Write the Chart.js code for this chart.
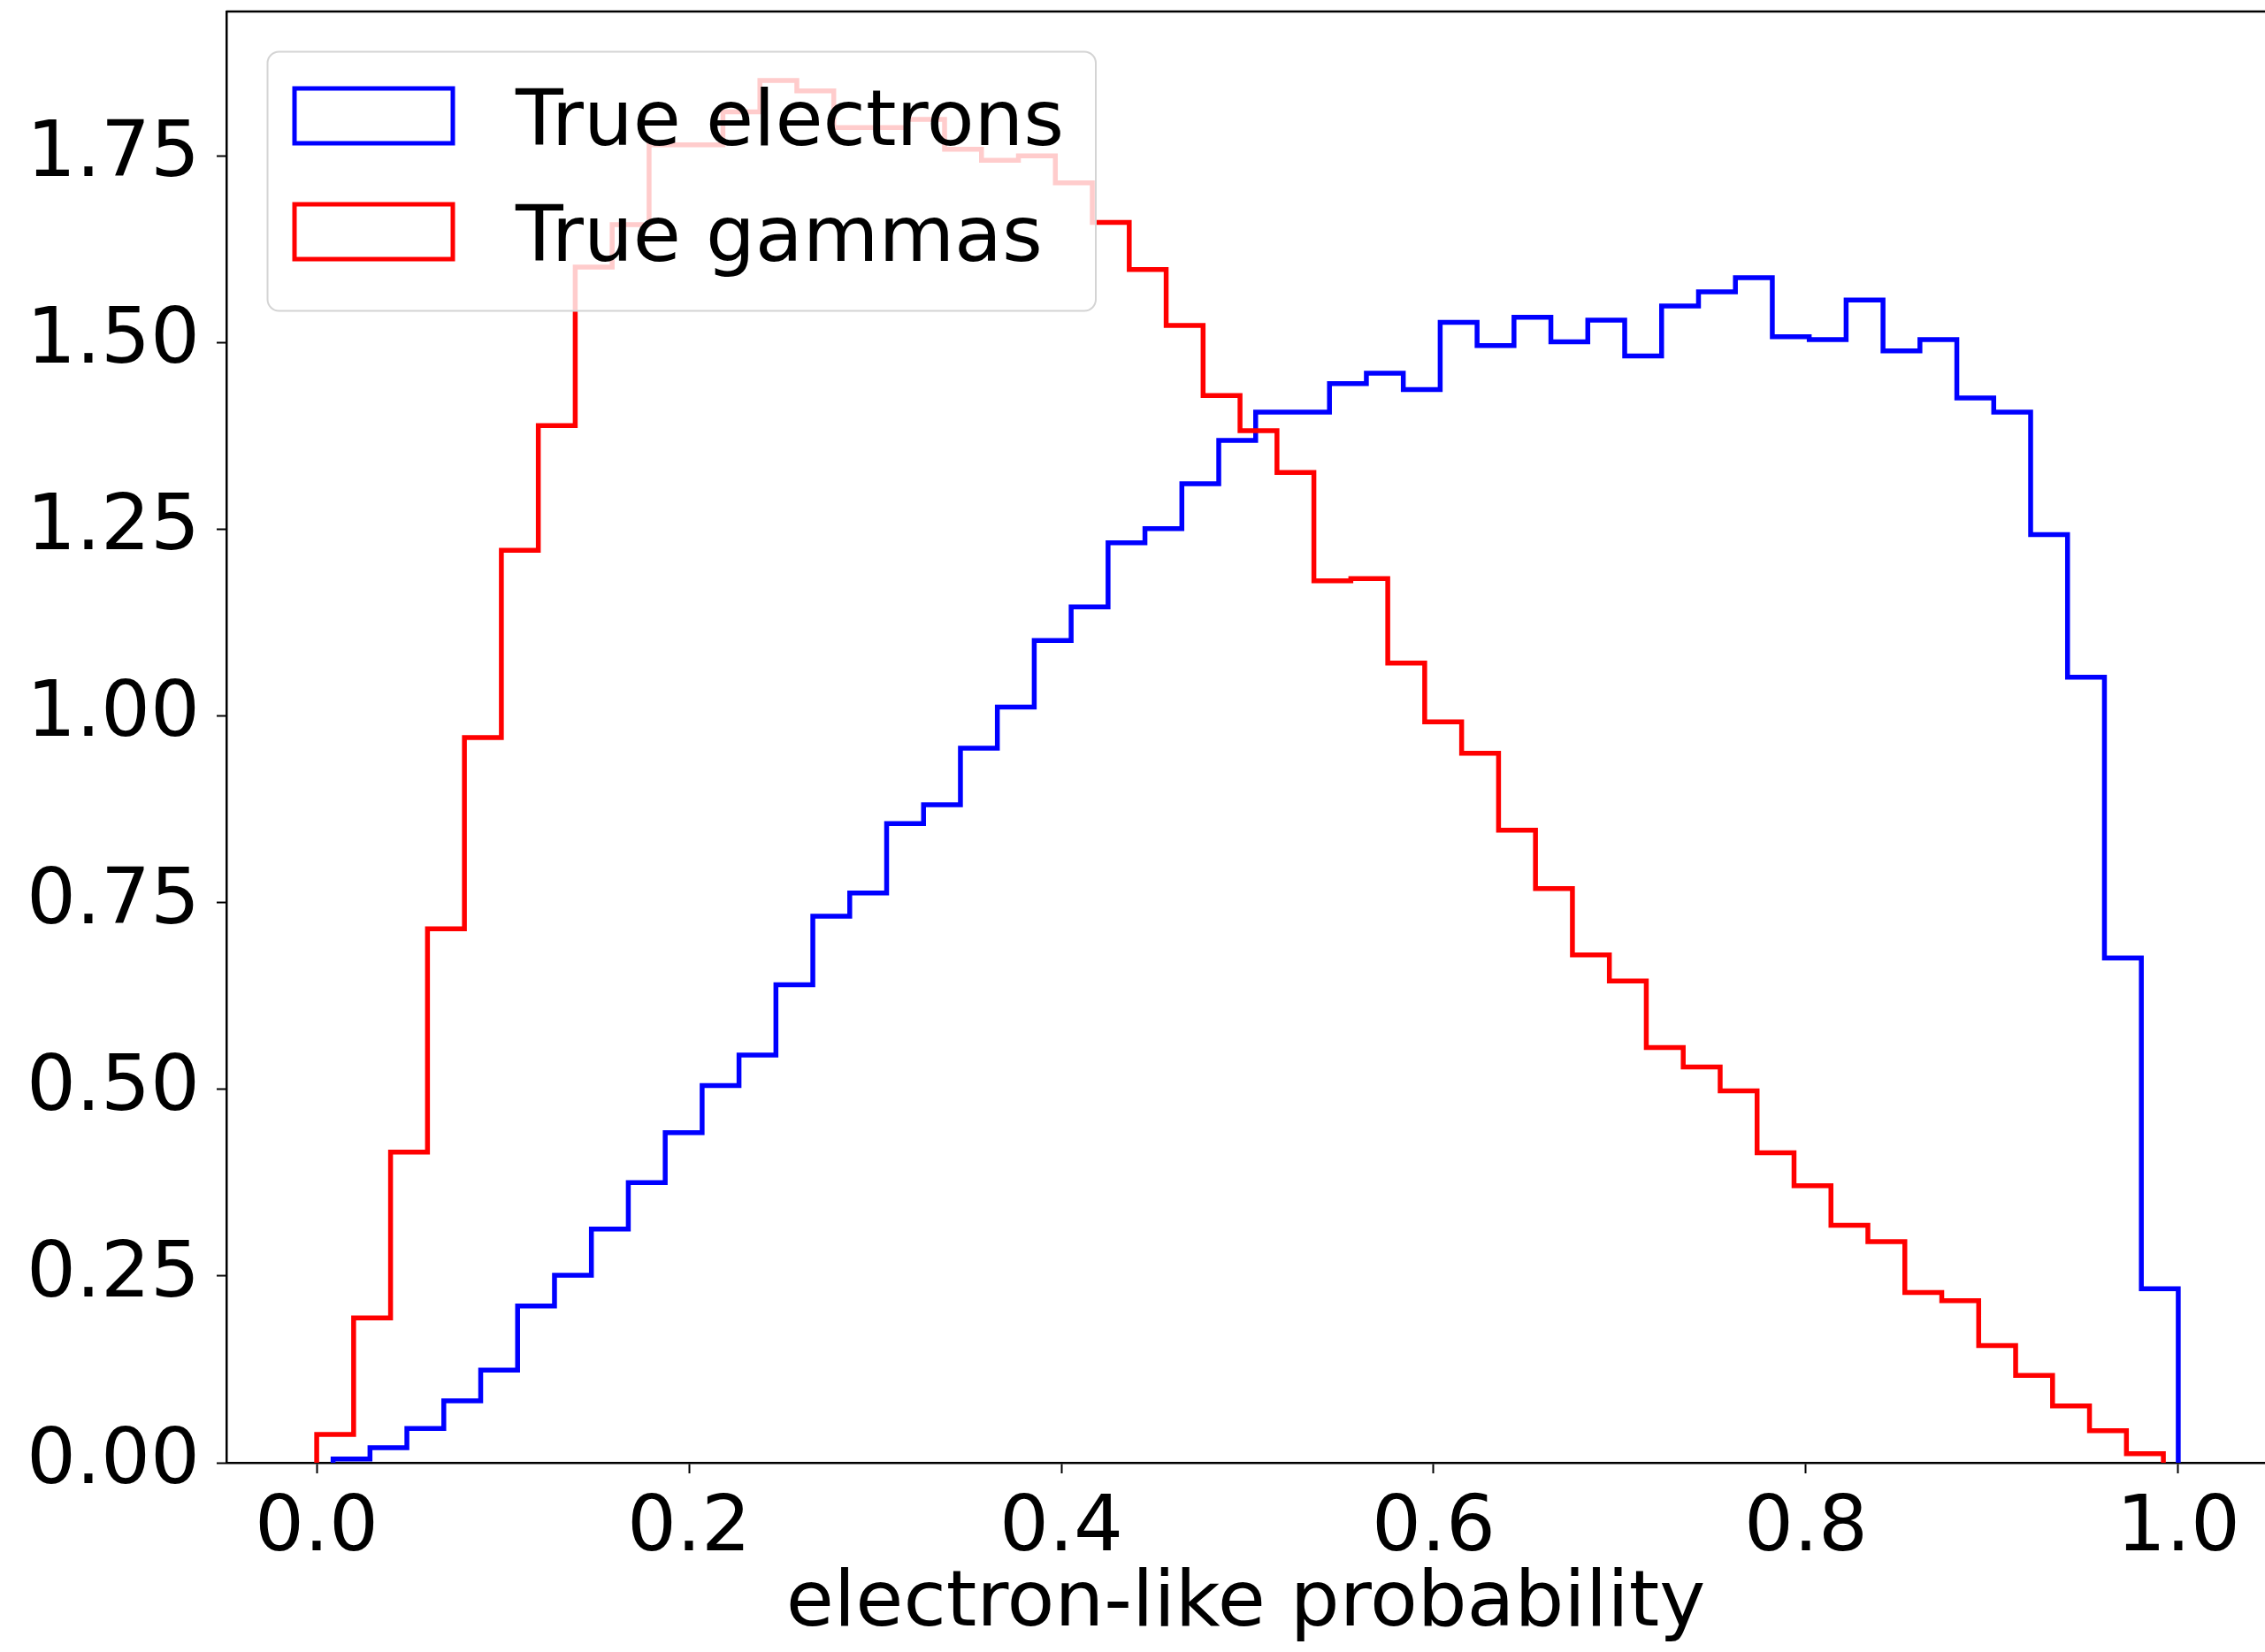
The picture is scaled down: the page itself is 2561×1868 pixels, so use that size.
<!DOCTYPE html>
<html>
<head>
    <title>Electron-like probability</title>
    <script src="https://cdn.jsdelivr.net/npm/chart.js"></script>
    <style>
        html, body { margin: 0; padding: 0; background: #fff; }
        #wrap { width: 2561px; height: 1868px; }
    </style>
</head>
<body>

<div id="wrap">
    <canvas id="probChart"></canvas>
</div>

<script>
    // Normalised histograms, 50 bins each, spanning each sample's own min..max
    const seriesLabels = ['True electrons', 'True gammas'];

    const electronRange = [0.0088, 1.0];
    const electronDensity = [
        0.005, 0.020, 0.046, 0.083, 0.124, 0.210, 0.251, 0.313, 0.375, 0.442,
        0.505, 0.546, 0.640, 0.732, 0.763, 0.856, 0.881, 0.957, 1.012, 1.101,
        1.146, 1.232, 1.251, 1.311, 1.369, 1.407, 1.407, 1.445, 1.459, 1.437,
        1.527, 1.496, 1.534, 1.501, 1.530, 1.482, 1.549, 1.568, 1.587, 1.508,
        1.504, 1.557, 1.489, 1.504, 1.426, 1.407, 1.243, 1.052, 0.676, 0.233
    ];

    const gammaRange = [0.0, 0.992];
    const gammaDensity = [
        0.038, 0.194, 0.416, 0.715, 0.971, 1.222, 1.389, 1.601, 1.658, 1.765,
        1.765, 1.809, 1.851, 1.837, 1.788, 1.788, 1.799, 1.759, 1.744, 1.750,
        1.714, 1.661, 1.598, 1.523, 1.429, 1.382, 1.326, 1.181, 1.184, 1.071,
        0.992, 0.950, 0.847, 0.769, 0.680, 0.645, 0.556, 0.530, 0.498, 0.415,
        0.371, 0.318, 0.296, 0.228, 0.217, 0.157, 0.117, 0.076, 0.043, 0.012
    ];

    const xTicks = [0.0, 0.2, 0.4, 0.6, 0.8, 1.0];
    const yTicks = [0.00, 0.25, 0.50, 0.75, 1.00, 1.25, 1.50, 1.75];
    const xLimits = [-0.0485, 1.0466];
    const yLimits = [0, 1.9434];

    const FONT = "'DejaVu Sans', sans-serif";
    const FONT_SIZE = 88;

    // Outline of a step histogram: up at the first edge, across each bin, down at the last edge.
    // Drawn with stepped 'before', i.e. horizontal to the next edge first, then vertical.
    function stepOutline(range, counts) {
        const [lo, hi] = range;
        const width = (hi - lo) / counts.length;
        const pts = [{x: lo, y: 0}, {x: lo, y: counts[0]}];
        counts.forEach((c, i) => pts.push({x: lo + (i + 1) * width, y: counts[i + 1] ?? c}));
        pts.push({x: hi, y: 0});
        return pts;
    }

    // Fixed axis boxes so the plot frame lands where it should
    function pinScale(size) {
        return scale => {
            if (scale.isHorizontal()) scale.height = size; else scale.width = size;
            scale.paddingTop = scale.paddingBottom = 0;
            scale.paddingLeft = scale.paddingRight = 0;
        };
    }

    // Top spine plus a framed legend sitting inside the plot
    const frameAndLegend = {
        id: 'frameAndLegend',
        afterDatasetsDraw(chart) {
            const {ctx, chartArea} = chart;
            ctx.save();

            ctx.strokeStyle = '#000';
            ctx.lineWidth = 2.5;
            ctx.beginPath();
            ctx.moveTo(chartArea.left, chartArea.top);
            ctx.lineTo(chartArea.right, chartArea.top);
            ctx.stroke();

            const bx = chartArea.left + 46.5;
            const by = chartArea.top + 45.5;
            const bw = 936.5;
            const bh = 293;
            ctx.beginPath();
            ctx.roundRect(bx, by, bw, bh, 13);
            ctx.fillStyle = 'rgba(255, 255, 255, 0.8)';
            ctx.fill();
            ctx.lineWidth = 2;
            ctx.strokeStyle = '#d4d4d4';
            ctx.stroke();

            ctx.font = FONT_SIZE + 'px ' + FONT;
            ctx.textBaseline = 'alphabetic';
            ctx.textAlign = 'left';
            chart.data.datasets.forEach((ds, i) => {
                const rowY = by + 72.5 + i * 131;
                ctx.strokeStyle = ds.borderColor;
                ctx.lineWidth = 5;
                ctx.strokeRect(bx + 30.5, rowY - 31, 179, 62);
                ctx.fillStyle = '#000';
                ctx.fillText(ds.label, bx + 280.5, rowY + 33);
            });

            ctx.restore();
        }
    };

    new Chart(document.getElementById('probChart'), {
        type: 'line',
        data: {
            datasets: [{
                label: seriesLabels[0],
                data: stepOutline(electronRange, electronDensity),
                borderColor: '#0000ff',
                order: 2
            }, {
                label: seriesLabels[1],
                data: stepOutline(gammaRange, gammaDensity),
                borderColor: '#ff0000',
                order: 1
            }]
        },
        options: {
            responsive: true,
            maintainAspectRatio: false,
            devicePixelRatio: 1,
            animation: false,
            layout: {padding: {top: 13, left: 0, right: 0, bottom: 0}},
            elements: {
                line: {stepped: 'before', borderWidth: 5.5, fill: false, tension: 0,
                       borderJoinStyle: 'miter', borderCapStyle: 'butt'},
                point: {radius: 0, hoverRadius: 0}
            },
            plugins: {
                legend: {display: false},
                tooltip: {enabled: false}
            },
            scales: {
                x: {
                    type: 'linear',
                    position: 'bottom',
                    min: xLimits[0],
                    max: xLimits[1],
                    afterBuildTicks: scale => { scale.ticks = xTicks.map(v => ({value: v})); },
                    afterFit: pinScale(214),
                    grid: {display: true, drawOnChartArea: false, drawTicks: true,
                           tickLength: 12, tickWidth: 2, tickColor: '#000'},
                    border: {display: true, color: '#000', width: 2.5},
                    ticks: {
                        color: '#000',
                        padding: 11,
                        maxRotation: 0,
                        autoSkip: false,
                        font: {family: FONT, size: FONT_SIZE},
                        callback: v => Number(v).toFixed(1)
                    },
                    title: {
                        display: true,
                        text: 'electron-like probability',
                        color: '#000',
                        padding: {top: 0, bottom: 0},
                        font: {family: FONT, size: FONT_SIZE}
                    }
                },
                y: {
                    type: 'linear',
                    position: 'left',
                    min: yLimits[0],
                    max: yLimits[1],
                    afterBuildTicks: scale => { scale.ticks = yTicks.map(v => ({value: v})); },
                    afterFit: pinScale(256),
                    grid: {display: true, drawOnChartArea: false, drawTicks: true,
                           tickLength: 11, tickWidth: 2, tickColor: '#000'},
                    border: {display: true, color: '#000', width: 2.5},
                    ticks: {
                        color: '#000',
                        padding: 19,
                        autoSkip: false,
                        font: {family: FONT, size: FONT_SIZE},
                        callback: v => Number(v).toFixed(2)
                    }
                }
            }
        },
        plugins: [frameAndLegend]
    });
</script>
</body>
</html>
